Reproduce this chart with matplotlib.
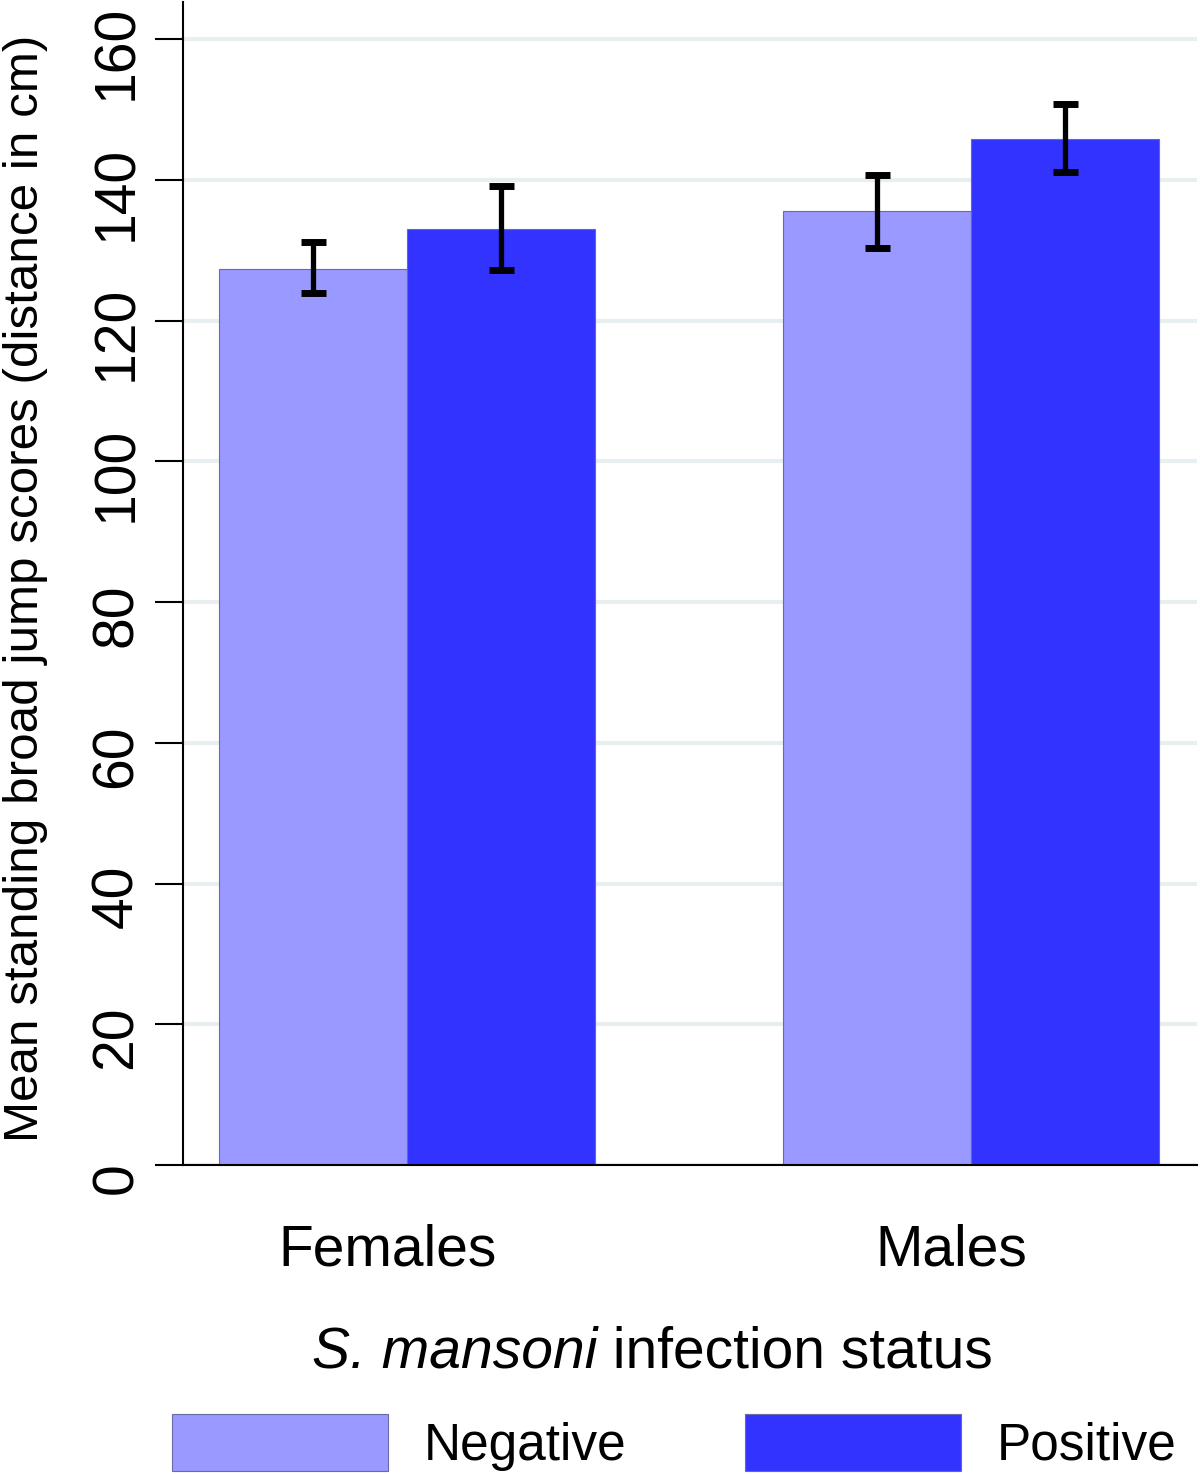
import matplotlib.pyplot as plt
import matplotlib.transforms as mtransforms
import numpy as np

plt.rcParams['font.family'] = ['Liberation Sans', 'DejaVu Sans']

# Data
groups = ['Females', 'Males']
series = ['Negative', 'Positive']
colors = ['#9999ff', '#3333ff']
means = {'Negative': [127.3, 135.6], 'Positive': [133.1, 145.9]}
ci_low = {'Negative': [123.9, 130.4], 'Positive': [127.2, 141.2]}
ci_high = {'Negative': [131.2, 140.7], 'Positive': [139.1, 150.8]}
yticks = [0, 20, 40, 60, 80, 100, 120, 140, 160]

fig = plt.figure(figsize=(12, 14.75), dpi=100)
ax = fig.add_axes([0.1525, 0.2102, 0.845, 0.7884])

x = np.arange(len(groups))
width = 0.333
for i, s in enumerate(series):
    pos = x + (i - 0.5) * width
    m = np.array(means[s])
    lo = m - np.array(ci_low[s])
    hi = np.array(ci_high[s]) - m
    ax.bar(pos, m, width, color=colors[i], edgecolor='#6a6aa8', linewidth=0.8,
           label=s, zorder=2)
    ax.errorbar(pos, m, yerr=[lo, hi], fmt='none', ecolor='black',
                elinewidth=3.8, capsize=9, capthick=5, zorder=3)

ax.set_xlim(-0.397, 1.401)
ax.set_ylim(0, 165.3)
ax.set_yticks(yticks)
ax.set_yticklabels([str(t) for t in yticks], rotation=90, va='center', fontsize=41)
ax.tick_params(axis='y', length=20, width=1.5, pad=8)
# stata puts the rotated labels a little below the tick
shift = mtransforms.ScaledTranslation(0, -0.13, fig.dpi_scale_trans)
for lab in ax.get_yticklabels():
    lab.set_transform(lab.get_transform() + shift)
ax.yaxis.grid(True, color='#e8eff1', linewidth=3, zorder=0)
ax.set_axisbelow(True)

ax.set_xticks(x - 0.035)
ax.set_xticklabels(groups, fontsize=41)
ax.tick_params(axis='x', length=0, pad=42)

for side in ['top', 'right']:
    ax.spines[side].set_visible(False)
for side in ['left', 'bottom']:
    ax.spines[side].set_linewidth(1.5)

ax.set_ylabel('Mean standing broad jump scores (distance in cm)', fontsize=35.6)
ax.yaxis.set_label_coords(-0.133, 0.496)

# x title: italic species name followed by plain text
t1 = fig.text(0.26, 0.0732, 'S. mansoni', fontsize=41, style='italic', va='baseline')
ax.annotate(' infection status', xy=(1, 0), xycoords=t1, fontsize=41,
            va='bottom', ha='left', annotation_clip=False)

fig.legend(loc='center', bbox_to_anchor=(0.562, 0.022), ncol=2, frameon=False,
           fontsize=37, handlelength=4.2, handleheight=1.33, handletextpad=0.7,
           columnspacing=2.3)

fig.savefig('out.png', dpi=100)
